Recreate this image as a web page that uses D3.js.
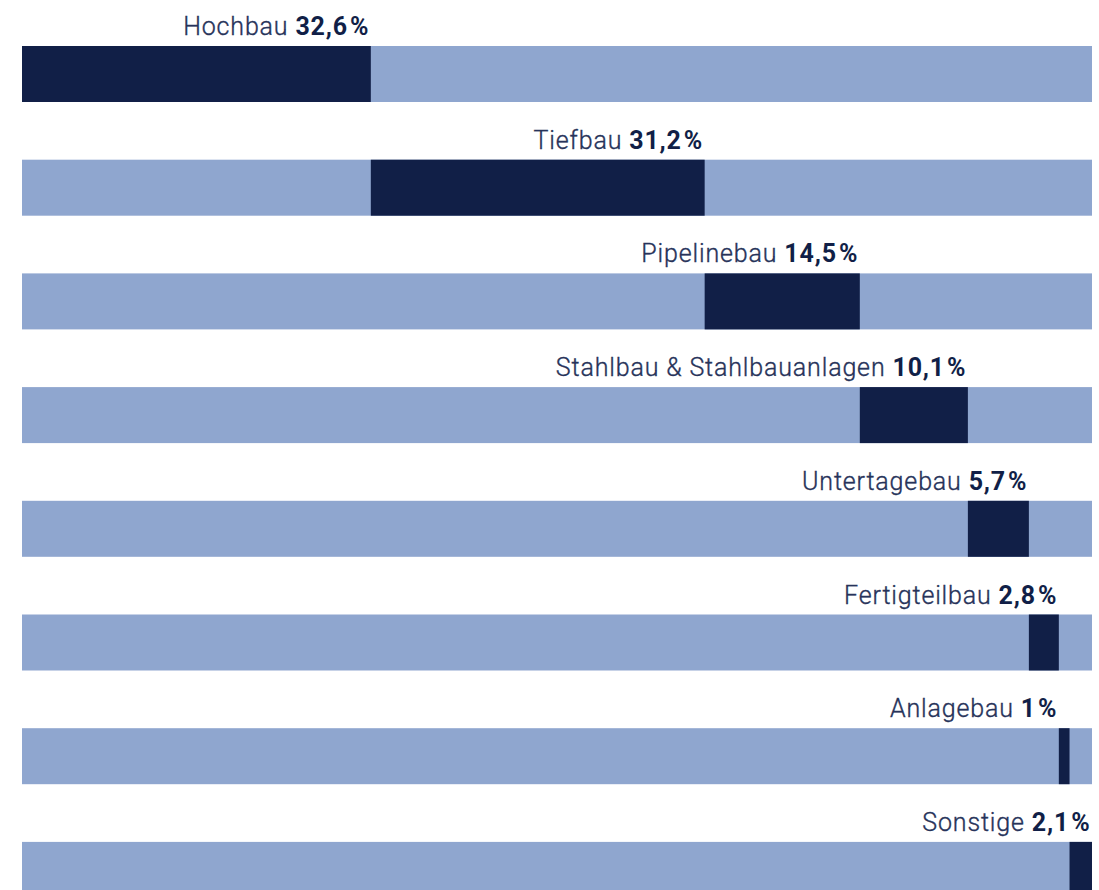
<!DOCTYPE html>
<html>
<head>
<meta charset="utf-8">
<script src="https://cdn.jsdelivr.net/npm/d3@7"></script>
<style>
  html, body { margin: 0; padding: 0; background: #ffffff; }
  svg { display: block; }
</style>
</head>
<body>
<svg id="chart" width="1099" height="890"></svg>
<script>
const categories = ["Hochbau", "Tiefbau", "Pipelinebau", "Stahlbau & Stahlbauanlagen", "Untertagebau", "Fertigteilbau", "Anlagebau", "Sonstige"];
const values = [32.6, 31.2, 14.5, 10.1, 5.7, 2.8, 1, 2.1];
const valueLabels = ["32,6", "31,2", "14,5", "10,1", "5,7", "2,8", "1", "2,1"];
const labelAnchor = ["end", "end", "end", "end", "end", "end", "start", "end"];

const svg = d3.select("#chart");
const x = d3.scaleLinear().domain([0, 100]).range([22, 1092]);
const barH = 56, step = 113.7;
const y = d3.scaleBand().domain(categories)
  .range([46, 46 + 7 * step + barH])
  .paddingInner(1 - barH / step).paddingOuter(0);

const ends = Array.from(d3.cumsum(values));
const data = categories.map((c, i) => ({ c, v: values[i], lab: valueLabels[i], end: ends[i], start: ends[i] - values[i], anchor: labelAnchor[i] }));

const rows = svg.selectAll("g.row").data(data).join("g").attr("class", "row");

rows.append("rect")
  .attr("x", x(0)).attr("y", d => y(d.c))
  .attr("width", x(100) - x(0)).attr("height", y.bandwidth())
  .attr("fill", "#8fa6cf");

rows.append("rect")
  .attr("x", d => x(d.start)).attr("y", d => y(d.c))
  .attr("width", d => x(d.end) - x(d.start)).attr("height", y.bandwidth())
  .attr("fill", "#111f47");

const t = rows.append("text")
  .attr("x", d => x(d.anchor === "start" ? d.start : d.end) - 1.5)
  .attr("y", d => y(d.c) - 11)
  .attr("text-anchor", "end")
  .style("font-family", "Roboto, 'DejaVu Sans', sans-serif")
  .style("font-size", "25px")
  .style("letter-spacing", "0.85px")
  .attr("fill", "#27335a");
t.append("tspan").attr("font-weight", 300).attr("stroke", "#27335a").attr("stroke-width", 0.35).text(d => d.c + " ");
t.append("tspan").attr("font-weight", 700).attr("fill", "#111f47").text(d => d.lab);
t.append("tspan").attr("font-weight", 700).attr("fill", "#111f47").attr("dx", 2).text("%");
</script>
</body>
</html>
